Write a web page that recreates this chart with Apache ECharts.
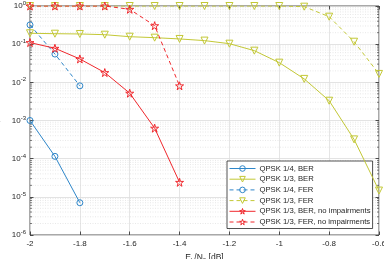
<!DOCTYPE html>
<html>
<head>
<meta charset="utf-8">
<script src="https://cdn.jsdelivr.net/npm/echarts@6/dist/echarts.min.js"></script>
<style>
  html, body { margin: 0; padding: 0; background: #fff; }
  #chart { width: 384px; height: 259px; }
</style>
</head>
<body>
<div id="chart"></div>
<script>
// Eb/N0 points
const x14 = [-2, -1.9, -1.8]
const x13 = [-2, -1.9, -1.8, -1.7, -1.6, -1.5, -1.4, -1.3, -1.2, -1.1, -1.0, -0.9, -0.8, -0.7, -0.6]
const xNoImp = [-2, -1.9, -1.8, -1.7, -1.6, -1.5, -1.4]

const ber14 = [1.0e-3, 1.15e-4, 7e-6]
const fer14 = [0.32, 0.055, 0.0081]
const ber13 = [0.193, 0.188, 0.185, 0.177, 0.157, 0.148, 0.137, 0.124, 0.103, 0.0676, 0.0328, 0.0123, 0.0033, 3.2e-4, 1.46e-5]
const fer13 = [1, 1, 1, 1, 1, 1, 1, 1, 1, 1, 1, 0.96, 0.525, 0.116, 0.0166]
const berNoImp = [0.11, 0.078, 0.041, 0.018, 0.0052, 6.3e-4, 2.4e-5]
const ferNoImp = [1, 1, 1, 1, 0.82, 0.305, 0.0081]

const names = [
  'QPSK 1/4, BER', 'QPSK 1/3, BER', 'QPSK 1/4, FER', 'QPSK 1/3, FER',
  'QPSK 1/3, BER, no impairments', 'QPSK 1/3, FER, no impairments'
]

const blue = '#2e86c9'
const yellow = '#c3c836'
const red = '#f0282d'
const ink = '#262626'

const triDown = 'path://M0,0 L10,0 L5,9 Z'
const star = 'path://M50,0 L61,35 L98,35 L68,57 L79,91 L50,70 L21,91 L32,57 L2,35 L39,35 Z'

// minor log positions 2..9 x 10^k
const minorVals = []
for (let k = -6; k < 0; k++) {
  for (let m = 2; m <= 9; m++) minorVals.push(m * Math.pow(10, k))
}

const zip = (xs, ys) => xs.map((x, i) => [x, ys[i]])

const mkSeries = (name, xs, ys, color, symbol, dashed, size) => ({
  name,
  type: 'line',
  data: zip(xs, ys),
  symbol,
  symbolSize: size,
  showSymbol: true,
  z: 5,
  lineStyle: { color, width: 1, type: dashed ? [4, 3] : 'solid' },
  itemStyle: { color: 'rgba(255,255,255,0)', borderColor: color, borderWidth: 1 },
  emphasis: { disabled: true },
  animation: false
})

const chart = echarts.init(document.getElementById('chart'))

const option = {
  animation: false,
  textStyle: { fontFamily: 'Liberation Sans, Arial, sans-serif' },
  grid: {
    left: 30, right: 5, top: 6, bottom: 24,
    outerBoundsMode: 'none',
    containLabel: false,
    show: true, borderColor: ink, borderWidth: 0.8, backgroundColor: '#fff'
  },
  legend: {
    orient: 'vertical',
    left: 227, top: 161,
    data: names,
    itemWidth: 26, itemHeight: 7, itemGap: 1.7,
    padding: [3, 2, 2, 2],
    backgroundColor: '#fff',
    borderColor: ink, borderWidth: 0.8, borderRadius: 0,
    lineStyle: { width: 1 },
    itemStyle: { borderWidth: 1 },
    textStyle: { fontSize: 7.7, color: ink, lineHeight: 9, padding: [0, 0, 0, -1] },
    selectedMode: false
  },
  xAxis: [{
    type: 'value', min: -2, max: -0.6, interval: 0.2,
    name: '{t|E}{s|b}{t|/N}{s|0}{t| [dB]}',
    nameLocation: 'middle', nameGap: 16,
    nameTextStyle: {
      rich: {
        t: { fontSize: 8.5, color: ink },
        s: { fontSize: 6, color: ink, verticalAlign: 'bottom', padding: [5, 0, 0, 0] }
      }
    },
    axisLine: { show: false },
    axisTick: { show: true, inside: true, length: 3.5, lineStyle: { color: ink, width: 0.8 } },
    axisLabel: { fontSize: 8, color: ink, margin: 5, formatter: v => String(Math.round(v * 10) / 10) },
    splitLine: { show: true, lineStyle: { color: '#dedede', width: 0.8 } }
  }, {
    type: 'value', min: -2, max: -0.6, interval: 0.2, position: 'top',
    axisLine: { show: false },
    axisTick: { show: true, inside: true, length: 3.5, lineStyle: { color: ink, width: 0.8 } },
    axisLabel: { show: false },
    splitLine: { show: false }
  }],
  yAxis: [{
    type: 'log', logBase: 10, min: 1e-6, max: 1, interval: 1,
    name: 'BER, FER', nameLocation: 'middle', nameGap: 21, nameRotate: 90,
    nameTextStyle: { fontSize: 8.5, color: ink },
    axisLine: { show: false },
    axisTick: { show: true, inside: true, length: 3.5, lineStyle: { color: ink, width: 0.8 } },
    axisLabel: {
      color: ink, margin: 4,
      formatter: v => '{b|10}{s|' + Math.round(Math.log10(v)) + '}',
      rich: {
        b: { fontSize: 8, color: ink },
        s: { fontSize: 6, color: ink, verticalAlign: 'top', padding: [0, 0, 5, 0] }
      }
    },
    splitLine: { show: true, lineStyle: { color: '#dcdcdc', width: 0.8 } }
  }, {
    type: 'log', logBase: 10, min: 1e-6, max: 1, interval: 1, position: 'right',
    axisLine: { show: false },
    axisTick: { show: true, inside: true, length: 3.5, lineStyle: { color: ink, width: 0.8 } },
    axisLabel: { show: false },
    splitLine: { show: false }
  }],
  series: [
    {
      // minor grid lines + minor ticks on the log axis
      type: 'custom',
      silent: true,
      z: 1,
      data: minorVals.map(v => [-2, v]),
      renderItem: (params, api) => {
        const v = api.value(1)
        const a = api.coord([-2, v])
        const b = api.coord([-0.6, v])
        const st = { stroke: ink, lineWidth: 0.6 }
        return {
          type: 'group',
          children: [
            { type: 'line', shape: { x1: a[0], y1: a[1], x2: b[0], y2: b[1] },
              style: { stroke: '#d8d8d8', lineWidth: 0.6, lineDash: [1, 1.5] } },
            { type: 'line', shape: { x1: a[0], y1: a[1], x2: a[0] + 2, y2: a[1] }, style: st },
            { type: 'line', shape: { x1: b[0], y1: b[1], x2: b[0] - 2, y2: b[1] }, style: st }
          ]
        }
      },
      animation: false
    },
    mkSeries(names[0], x14, ber14, blue, 'circle', false, 6),
    mkSeries(names[1], x13, ber13, yellow, triDown, false, 7),
    mkSeries(names[2], x14, fer14, blue, 'circle', true, 6),
    mkSeries(names[3], x13, fer13, yellow, triDown, true, 7),
    mkSeries(names[4], xNoImp, berNoImp, red, star, false, 8),
    mkSeries(names[5], xNoImp, ferNoImp, red, star, true, 8)
  ]
}

chart.setOption(option)
</script>
</body>
</html>
